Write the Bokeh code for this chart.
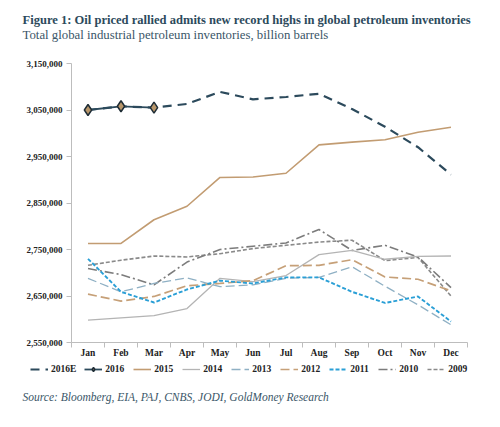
from bokeh.plotting import figure
from bokeh.models import (FixedTicker, NumeralTickFormatter, Legend, LegendItem,
                          Range1d, Label)
from bokeh.layouts import column
from bokeh.embed import file_html
from bokeh.resources import INLINE

months = ["Jan", "Feb", "Mar", "Apr", "May", "Jun", "Jul", "Aug", "Sep", "Oct", "Nov", "Dec"]

y2016E = [3050000, 3058000, 3055000, 3063000, 3089000, 3073000, 3078000, 3085000, 3052000, 3014000, 2970000, 2911000]
y2016 = [3050000, 3058000, 3055000]
y2015 = [2763000, 2763000, 2814000, 2843000, 2905000, 2906000, 2914000, 2975000, 2981000, 2986000, 3002000, 3013000]
y2014 = [2598000, 2603000, 2608000, 2623000, 2688000, 2681000, 2694000, 2739000, 2748000, 2729000, 2735000, 2736000]
y2013 = [2688000, 2659000, 2677000, 2689000, 2670000, 2674000, 2688000, 2690000, 2713000, 2671000, 2631000, 2588000]
y2012 = [2654000, 2639000, 2649000, 2672000, 2677000, 2683000, 2715000, 2716000, 2728000, 2691000, 2686000, 2661000]
y2011 = [2730000, 2659000, 2636000, 2664000, 2683000, 2677000, 2690000, 2690000, 2659000, 2635000, 2649000, 2595000]
y2010 = [2709000, 2696000, 2674000, 2723000, 2750000, 2757000, 2764000, 2793000, 2748000, 2759000, 2734000, 2668000]
y2009 = [2716000, 2727000, 2736000, 2734000, 2741000, 2752000, 2759000, 2766000, 2770000, 2726000, 2733000, 2650000]

y_ticks = [2550000, 2650000, 2750000, 2850000, 2950000, 3050000, 3150000]

title_text = "Figure 1: Oil priced rallied admits new record highs in global petroleum inventories"
subtitle_text = "Total global industrial petroleum inventories, billion barrels"
source_text = "Source: Bloomberg, EIA, PAJ, CNBS, JODI, GoldMoney Research"

FONT = "Liberation Serif"
DARK = "#2c4a5c"
TXT = "#3a5668"
W = 500


def blank(h):
    f = figure(width=W, height=h, output_backend="svg", toolbar_location=None,
               x_range=Range1d(0, W), y_range=Range1d(0, h),
               x_axis_location=None, y_axis_location=None, min_border=0,
               frame_align=False)
    f.outline_line_color = None
    f.xgrid.visible = False
    f.ygrid.visible = False
    return f


# ---- header -------------------------------------------------------------
head = blank(55)
head.add_layout(Label(x=22, y=36, x_units="screen", y_units="screen", text=title_text,
                      text_font=FONT, text_font_style="bold", text_font_size="12.55px",
                      text_color=DARK, text_baseline="middle"))
head.add_layout(Label(x=22, y=21, x_units="screen", y_units="screen", text=subtitle_text,
                      text_font=FONT, text_font_size="12.8px",
                      text_color=TXT, text_baseline="middle"))

# ---- chart --------------------------------------------------------------
p = figure(width=W, height=305, output_backend="svg", toolbar_location=None,
           x_range=Range1d(-0.5, 11.5), y_range=Range1d(2550000, 3150000),
           min_border_left=71, min_border_right=33, min_border_top=8, min_border_bottom=17,
           frame_align=False)
p.outline_line_color = None
p.xgrid.visible = False
p.ygrid.visible = False

x = list(range(len(months)))

styles = {
    "2016E": dict(line_color=DARK, line_width=2.2, line_dash="9 6"),
    "2015": dict(line_color="#c29c72", line_width=1.6),
    "2014": dict(line_color="#b4b4b4", line_width=1.3),
    "2013": dict(line_color="#8fb0c4", line_width=1.3, line_dash="9 4"),
    "2012": dict(line_color="#c6a078", line_width=1.7, line_dash="9 4"),
    "2011": dict(line_color="#2a9fd6", line_width=1.9, line_dash="4 2"),
    "2010": dict(line_color="#7c7c7c", line_width=1.6, line_dash="9 3 2 3"),
    "2009": dict(line_color="#8a8a8a", line_width=1.6, line_dash="4 2"),
}
data = {"2016E": y2016E, "2015": y2015, "2014": y2014, "2013": y2013,
        "2012": y2012, "2011": y2011, "2010": y2010, "2009": y2009}
draw_order = ["2009", "2010", "2014", "2013", "2012", "2011", "2015", "2016E"]
for name in draw_order:
    ys = data[name]
    p.line(x[:len(ys)], ys, **styles[name])

s16 = dict(line_color=DARK, line_width=1.8)
m16 = dict(marker="diamond", fill_color="#b8966a", line_color="#1f2d36", line_width=1.5)
p.line(x[:len(y2016)], y2016, **s16)
p.scatter(x[:len(y2016)], y2016, size=11, **m16)

p.yaxis.ticker = FixedTicker(ticks=y_ticks)
p.yaxis.formatter = NumeralTickFormatter(format="0,0")
p.yaxis.axis_line_color = "#bdbdbd"
p.yaxis.major_tick_line_color = "#bdbdbd"
p.yaxis.major_tick_out = 5
p.yaxis.major_tick_in = 0
p.yaxis.minor_tick_line_color = None
p.yaxis.major_label_text_font = FONT
p.yaxis.major_label_text_font_style = "bold"
p.yaxis.major_label_text_font_size = "9px"
p.yaxis.major_label_text_color = "#222222"
p.yaxis.major_label_standoff = 4

p.xaxis.ticker = FixedTicker(ticks=x, minor_ticks=[i - 0.5 for i in range(13)])
p.xaxis.major_label_overrides = {i: m for i, m in enumerate(months)}
p.xaxis.axis_line_color = "#bdbdbd"
p.xaxis.major_tick_line_color = None
p.xaxis.major_tick_out = 0
p.xaxis.major_tick_in = 0
p.xaxis.minor_tick_line_color = "#bdbdbd"
p.xaxis.minor_tick_out = 5
p.xaxis.minor_tick_in = 0
p.xaxis.major_label_text_font = FONT
p.xaxis.major_label_text_font_style = "bold"
p.xaxis.major_label_text_font_size = "9.5px"
p.xaxis.major_label_text_color = "#222222"
p.xaxis.major_label_standoff = 0

# ---- legend + source ----------------------------------------------------
# legend keys: hidden copies of the series (outside this strip's range) so the
# legend can draw each series' line style
foot = blank(67)
order = ["2016E", "2016", "2015", "2014", "2013", "2012", "2011", "2010", "2009"]
items = []
for name in order:
    if name == "2016":
        rl = foot.line(x[:len(y2016)], y2016, visible=False, **s16)
        rm = foot.scatter(x[:len(y2016)], y2016, size=8, visible=False, **m16)
        items.append(LegendItem(label=name, renderers=[rl, rm]))
    else:
        ys = data[name]
        r = foot.line(x[:len(ys)], ys, visible=False, **styles[name])
        items.append(LegendItem(label=name, renderers=[r]))

legend = Legend(items=items, orientation="horizontal", location=(30, 53),
                glyph_width=18, glyph_height=10, label_standoff=3, spacing=8,
                padding=0, margin=0, border_line_alpha=0, background_fill_alpha=0,
                label_text_font=FONT, label_text_font_style="bold",
                label_text_font_size="9.5px", label_text_color="#222222",
                label_height=10, click_policy="none")
foot.add_layout(legend, "center")

foot.add_layout(Label(x=22, y=31, x_units="screen", y_units="screen", text=source_text,
                      text_font=FONT, text_font_style="italic", text_font_size="11.5px",
                      text_color=TXT, text_baseline="middle"))

layout = column(head, p, foot, spacing=0)
open("out.html", "w").write(file_html(layout, INLINE))
